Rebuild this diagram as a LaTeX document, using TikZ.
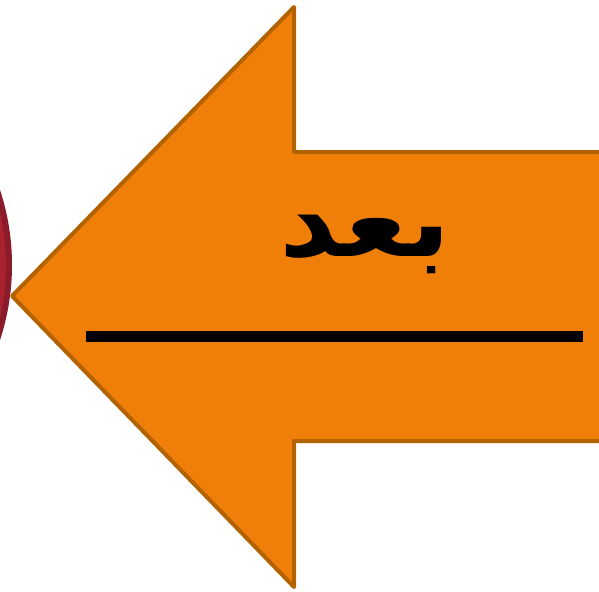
\documentclass[tikz,border=0pt]{standalone}
\usepackage{graphicx}
\usepackage{fontspec}
\newfontfamily\arabicfont[Script=Arabic]{DejaVu Sans}
\TeXXeTstate=1
\definecolor{arrowfill}{HTML}{F07F09}
\definecolor{arrowedge}{HTML}{B36200}
\definecolor{discdark}{HTML}{8B1A2A}
\definecolor{disclight}{HTML}{A8222F}
\tikzset{
  arrowshape/.style={fill=arrowfill, draw=arrowedge, line width=4pt, line join=round},
  bar/.style={line width=11pt, black},
  label/.style={font=\arabicfont\bfseries\fontsize{78}{90}\selectfont, text=black, inner sep=0pt}
}
\begin{document}
\begin{tikzpicture}[x=1pt,y=-1pt]
\useasboundingbox (0,0) rectangle (599,591);
\clip (0,0) rectangle (599,591);
% red disc at left
\fill[discdark] (-228,265) circle (240);
\fill[disclight] (-228,265) circle (234);
% arrow
\draw[arrowshape] (12,296) -- (294,7) -- (294,152) -- (640,152) -- (640,441) -- (294,441) -- (294,587) -- cycle;
% text
\node[label] (word) at (365,244) {\scalebox{1.45}[1.28]{\beginR بعد\endR}};
\coordinate (barL) at (86,336);
\coordinate (barR) at (583,336);
\draw[bar] (barL) -- (barR);
\end{tikzpicture}
\end{document}
